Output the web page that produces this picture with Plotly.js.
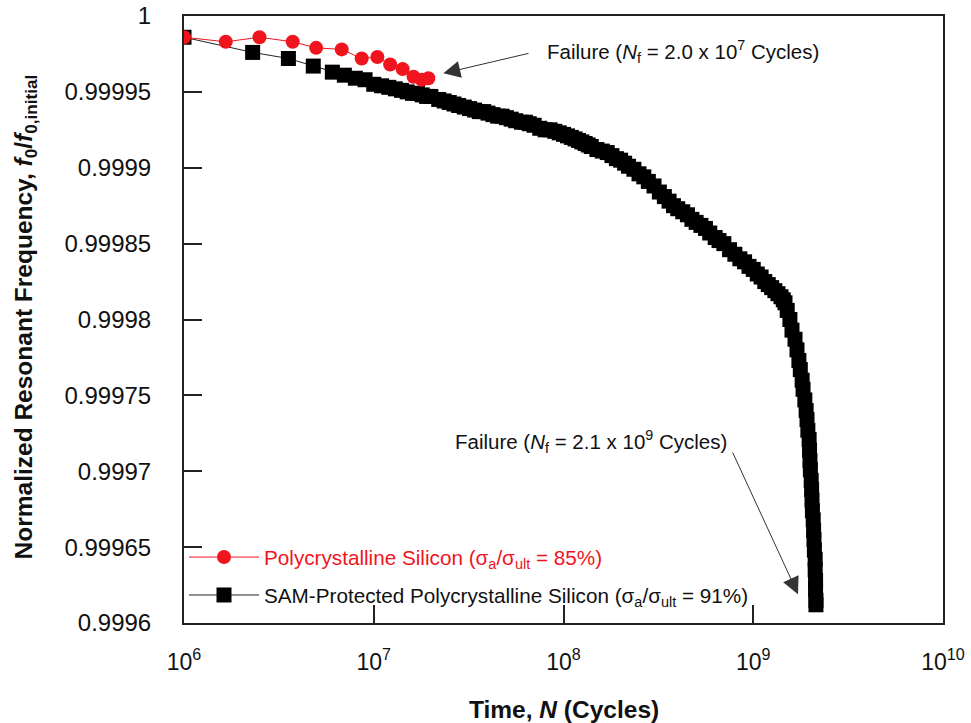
<!DOCTYPE html>
<html><head><meta charset="utf-8">
<script src="https://cdn.plot.ly/plotly-3.0.1.min.js"></script>
<style>html,body{margin:0;padding:0;background:#fff}</style>
</head><body>
<div id="chart" style="width:971px;height:723px"></div>
<script>
// Polycrystalline silicon (sigma_a/sigma_ult = 85%)
const polyCycles = [1.0e6, 1.66e6, 2.50e6, 3.74e6, 4.97e6, 6.78e6, 8.64e6, 1.045e7, 1.22e7, 1.42e7, 1.62e7, 1.79e7, 1.94e7];
const polyFreq   = [0.999986, 0.999983, 0.999986, 0.999983, 0.999979, 0.999978, 0.999972, 0.999973, 0.999968, 0.999965, 0.999960, 0.999958, 0.999959];

// SAM-protected polycrystalline silicon (sigma_a/sigma_ult = 91%)
const samCycles = [1e6, 2.3e6, 3.55e6, 4.8e6, 6.05e6, 7e6, 8e6, 9e6,
  1e7, 1.1e7, 1.2e7, 1.3e7, 1.4e7, 1.5e7, 1.6e7, 1.7e7, 1.8e7, 1.9e7, 2e7, 2.2e7, 2.35e7, 2.5e7, 2.65e7, 2.8e7, 3e7, 3.2e7, 3.4e7, 3.6e7, 3.8e7,
  4e7, 4.25e7, 4.5e7, 4.75e7, 5e7, 5.3e7, 5.6e7, 6e7, 6.3e7, 6.6e7, 7e7, 7.5e7, 8e7, 8.5e7, 9e7, 9.5e7,
  1e8, 1.05e8, 1.1e8, 1.15e8, 1.2e8, 1.25e8, 1.3e8, 1.35e8, 1.4e8, 1.5e8, 1.6e8, 1.7e8, 1.8e8, 1.9e8, 2e8, 2.1e8, 2.2e8, 2.35e8,
  2.5e8, 2.65e8, 2.8e8, 3e8, 3.2e8, 3.4e8, 3.6e8, 3.8e8, 4e8, 4.25e8, 4.5e8, 4.75e8, 5e8, 5.3e8, 5.6e8, 5.9e8, 6.3e8, 6.6e8,
  7e8, 7.5e8, 8e8, 8.5e8, 9e8, 9.5e8,
  1e9, 1.05e9, 1.1e9, 1.15e9, 1.2e9, 1.25e9, 1.3e9, 1.35e9, 1.4e9, 1.44e9, 1.47e9, 1.51e9, 1.56e9, 1.6e9, 1.66e9, 1.70e9, 1.74e9,
  1.77e9, 1.81e9, 1.83e9, 1.87e9, 1.90e9, 1.92e9, 1.94e9, 1.97e9, 1.98e9, 1.99e9, 2.0e9, 2.02e9, 2.03e9, 2.04e9, 2.05e9, 2.07e9,
  2.08e9, 2.09e9, 2.10e9, 2.12e9, 2.12e9, 2.13e9, 2.13e9, 2.14e9, 2.14e9];
const samFreq = [0.999986, 0.999976, 0.999972, 0.999967, 0.999963, 0.999961, 0.999959, 0.999958,
  0.999955, 0.999954, 0.999953, 0.999952, 0.999951, 0.999950, 0.999949, 0.999949, 0.999948, 0.999947, 0.999947, 0.999945, 0.999944, 0.999943, 0.999942, 0.999941, 0.999940, 0.999939, 0.999938, 0.999937, 0.999937,
  0.999936, 0.999935, 0.999934, 0.999934, 0.999933, 0.999932, 0.999931, 0.999930, 0.999930, 0.999929, 0.999928, 0.999926, 0.999925, 0.999925, 0.999924, 0.999923,
  0.999922, 0.999921, 0.999920, 0.999919, 0.999918, 0.999917, 0.999916, 0.999915, 0.999914, 0.999912, 0.999911, 0.999910, 0.999908, 0.999906, 0.999905, 0.999903, 0.999901, 0.999899,
  0.999896, 0.999894, 0.999891, 0.999888, 0.999884, 0.999881, 0.999878, 0.999875, 0.999873, 0.999871, 0.999869, 0.999866, 0.999864, 0.999862, 0.999860, 0.999857, 0.999854, 0.999852,
  0.999850, 0.999846, 0.999843, 0.999840, 0.999838, 0.999835,
  0.999833, 0.999830, 0.999828, 0.999825, 0.999823, 0.999821, 0.999819, 0.999817, 0.999815, 0.999813, 0.999811, 0.999806, 0.999800, 0.999793, 0.999787, 0.999780, 0.999773,
  0.999767, 0.999760, 0.999754, 0.999747, 0.999740, 0.999734, 0.999727, 0.999721, 0.999714, 0.999707, 0.999701, 0.999694, 0.999688, 0.999681, 0.999674, 0.999668,
  0.999661, 0.999655, 0.999648, 0.999642, 0.999635, 0.999628, 0.999622, 0.999615, 0.999612];

const xTickVals = [1e6, 1e7, 1e8, 1e9, 1e10];
const xTickText = ['10<sup>6</sup>', '10<sup>7</sup>', '10<sup>8</sup>', '10<sup>9</sup>', '10<sup>10</sup>'];
const yTickVals = [1.0, 0.99995, 0.9999, 0.99985, 0.9998, 0.99975, 0.9997, 0.99965, 0.9996];
const yTickText = ['1', '0.99995', '0.9999', '0.99985', '0.9998', '0.99975', '0.9997', '0.99965', '0.9996'];

const FONT = 'Arial, "Liberation Sans", Helvetica, sans-serif';
const RED = '#f0141e';

const traces = [
  {
    x: samCycles, y: samFreq, type: 'scatter', mode: 'lines+markers', legendgroup: 'sam', legendrank: 2,
    name: 'SAM-Protected Polycrystalline Silicon (σ<sub>a</sub>/σ<sub>ult</sub> = 91%)',
    line: {color: '#222', width: 1},
    marker: {symbol: 'square', size: 15, color: '#000'}
  },
  {
    x: polyCycles, y: polyFreq, type: 'scatter', mode: 'lines+markers', legendgroup: 'poly', legendrank: 1,
    name: '<span style="color:' + RED + '">Polycrystalline Silicon (σ<sub>a</sub>/σ<sub>ult</sub> = 85%)</span>',
    line: {color: RED, width: 1},
    marker: {symbol: 'circle', size: 14, color: RED}
  }
];

const layout = {
  width: 971, height: 723,
  margin: {l: 184, r: 28, t: 16, b: 100},
  paper_bgcolor: '#fff', plot_bgcolor: '#fff',
  font: {family: FONT, color: '#111', size: 20},
  showlegend: true,
  legend: {x: 0.0, y: 0.013, xanchor: 'left', yanchor: 'bottom', traceorder: 'grouped',
           bgcolor: 'rgba(0,0,0,0)', font: {size: 20.7, family: FONT, color: '#111'}, itemwidth: 70, tracegroupgap: 8},
  xaxis: {
    type: 'log', range: [6, 10],
    tickvals: xTickVals, ticktext: xTickText,
    ticks: 'inside', ticklen: 18, tickwidth: 2, tickcolor: '#222',
    showline: true, linewidth: 2, linecolor: '#222', mirror: true,
    showgrid: false, zeroline: false,
    tickfont: {size: 23, family: FONT, color: '#111'},
    ticklabelstandoff: 17
  },
  yaxis: {
    range: [0.9996, 1.0],
    tickvals: yTickVals, ticktext: yTickText,
    ticks: 'inside', ticklen: 18, tickwidth: 2, tickcolor: '#222',
    showline: true, linewidth: 2, linecolor: '#222', mirror: true,
    showgrid: false, zeroline: false,
    tickfont: {size: 24, family: FONT, color: '#111'},
    ticklabelstandoff: 26
  },
  annotations: [
    {xref: 'paper', yref: 'paper', x: -0.2095, y: 0.505, xanchor: 'center', yanchor: 'middle', textangle: -90, showarrow: false,
     text: '<b>Normalized Resonant Frequency, <i>f</i><sub>0</sub>/<i>f</i><sub>0,initial</sub></b>', font: {size: 24.5, family: FONT, color: '#111'}},
    {xref: 'paper', yref: 'paper', x: 0.5, y: -0.1433, xanchor: 'center', yanchor: 'middle', showarrow: false,
     text: '<b>Time, <i>N</i> (Cycles)</b>', font: {size: 24.5, family: FONT, color: '#111'}},
    {xref: 'x', yref: 'y', x: 7.9025, y: 0.9999763, xanchor: 'left', yanchor: 'middle', showarrow: false,
     text: 'Failure (<i>N</i><sub>f</sub> = 2.0 x 10<sup>7</sup> Cycles)', font: {size: 20.5, family: FONT, color: '#111'}},
    {xref: 'x', yref: 'y', x: 7.3666, y: 0.9999622, axref: 'x', ayref: 'y', ax: 7.8235, ay: 0.9999756,
     text: '', showarrow: true, arrowhead: 2, arrowsize: 3.4, arrowwidth: 1, arrowcolor: '#333'},
    {xref: 'x', yref: 'y', x: 7.418, y: 0.9997193, xanchor: 'left', yanchor: 'middle', showarrow: false,
     text: 'Failure (<i>N</i><sub>f</sub> = 2.1 x 10<sup>9</sup> Cycles)', font: {size: 20.5, family: FONT, color: '#111'}},
    {xref: 'x', yref: 'y', x: 9.2358, y: 0.999619, axref: 'x', ayref: 'y', ax: 8.888, ay: 0.9997133,
     text: '', showarrow: true, arrowhead: 2, arrowsize: 3.4, arrowwidth: 1, arrowcolor: '#333'}
  ]
};

Plotly.newPlot('chart', traces, layout, {displayModeBar: false, staticPlot: true});
</script>
</body></html>
